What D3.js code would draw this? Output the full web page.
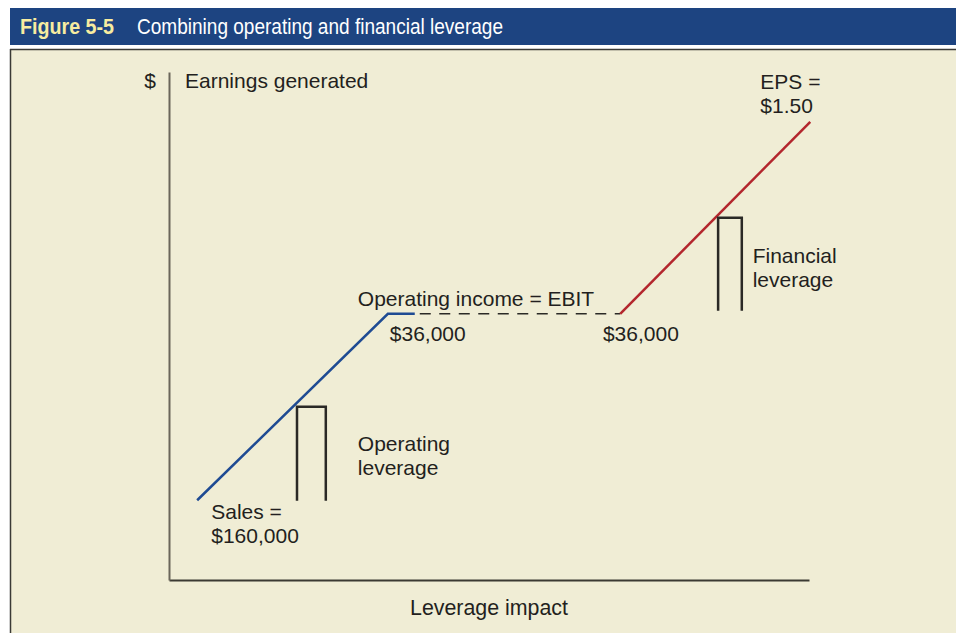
<!DOCTYPE html>
<html><head><meta charset="utf-8">
<script src="https://cdn.jsdelivr.net/npm/d3@7"></script>
<style>
html,body{margin:0;padding:0;background:#fff;}
svg{display:block;}
</style></head>
<body>
<script>
// ---- data (abstract units: leverage impact 0-100, earnings 0-100) ----
const figureNumber = "Figure 5-5";
const figureTitle = "Combining operating and financial leverage";
const xAxisLabel = "Leverage impact";
const yAxisLabel = "Earnings generated";
const operatingLine = [{x:4.4,y:15.7},{x:34.2,y:52.4},{x:38.4,y:52.4}];
const ebitLink = [{x:38.4,y:52.4},{x:70.5,y:52.4}];
const financialLine = [{x:70.5,y:52.4},{x:100.2,y:90.2}];
const operatingBracket = [{x:20.0,y:15.6},{x:20.0,y:34.1},{x:24.5,y:34.1},{x:24.5,y:15.6}];
const financialBracket = [{x:85.8,y:53.0},{x:85.8,y:71.3},{x:89.5,y:71.3},{x:89.5,y:53.0}];
const labels = [
  {lines:["EPS =","$1.50"], x:92.4, y:96.7},
  {lines:["Financial","leverage"], x:91.2, y:62.4},
  {lines:["Operating income = EBIT"], x:29.5, y:54.0},
  {lines:["$36,000"], x:34.5, y:47.0},
  {lines:["$36,000"], x:67.8, y:47.0},
  {lines:["Operating","leverage"], x:29.5, y:25.4},
  {lines:["Sales =","$160,000"], x:6.6, y:12.0}
];

const W=956, H=633;
const svg = d3.select("body").append("svg").attr("width",W).attr("height",H);
const textColor = "#231f20";

// backgrounds
svg.append("rect").attr("x",0).attr("y",0).attr("width",W).attr("height",H).attr("fill","#fff");
svg.append("rect").attr("x",10).attr("y",8).attr("width",W-10).attr("height",37).attr("fill","#1d4481");
svg.append("rect").attr("x",10).attr("y",49).attr("width",W-10).attr("height",H-49).attr("fill","#f0edd5");
svg.append("line").attr("x1",10).attr("x2",W).attr("y1",49.5).attr("y2",49.5).attr("stroke","#3a3a36").attr("stroke-width",1.5);
svg.append("line").attr("x1",10.5).attr("x2",10.5).attr("y1",49).attr("y2",H).attr("stroke","#3a3a36").attr("stroke-width",1.5);

// title (condensed look via textLength)
const condensed = "'Liberation Sans Narrow','Arial Narrow','Liberation Sans',Arial,sans-serif";
svg.append("text").attr("x",20).attr("y",34).attr("textLength",94).attr("lengthAdjust","spacingAndGlyphs")
  .style("font-family",condensed).style("font-size","22px").attr("font-weight","bold")
  .attr("fill","#f7eca0").text(figureNumber);
svg.append("text").attr("x",137).attr("y",34).attr("textLength",366).attr("lengthAdjust","spacingAndGlyphs")
  .style("font-family",condensed).style("font-size","22px").attr("fill","#fff").text(figureTitle);

// scales
const x = d3.scaleLinear().domain([0,100]).range([169,809]);
const y = d3.scaleLinear().domain([0,100]).range([580,72]);

// axes
const g = svg.append("g");
const xAxis = d3.axisBottom(x).ticks(0).tickSize(0).tickSizeOuter(0);
const yAxis = d3.axisLeft(y).ticks(0).tickSize(0).tickSizeOuter(0);
g.append("g").attr("transform",`translate(0,${y(0)})`).call(xAxis)
  .call(s=>s.select(".domain").attr("stroke","#3b3a33").attr("stroke-width",2));
g.append("g").attr("transform",`translate(${x(0)},0)`).call(yAxis)
  .call(s=>s.select(".domain").attr("stroke","#6a665a").attr("stroke-width",2));

const font = "'Liberation Sans',Arial,Helvetica,sans-serif";
svg.append("text").attr("x",410).attr("y",615).attr("textLength",158).attr("lengthAdjust","spacingAndGlyphs")
  .style("font-family",condensed).style("font-size","22px")
  .attr("fill",textColor).text(xAxisLabel);
svg.append("text").attr("x",156).attr("y",88).attr("text-anchor","end")
  .style("font-family",font).style("font-size","21px").attr("fill",textColor).text("$");
svg.append("text").attr("x",185).attr("y",88)
  .style("font-family",font).style("font-size","21px").attr("fill",textColor).text(yAxisLabel);

const line = d3.line().x(d=>x(d.x)).y(d=>y(d.y));
svg.append("path").attr("d",line(operatingLine)).attr("fill","none").attr("stroke","#1f4b93").attr("stroke-width",2.5);
svg.append("path").attr("d",line(ebitLink)).attr("fill","none").attr("stroke","#2b2a26").attr("stroke-width",1.5)
  .attr("stroke-dasharray","11,8.5").attr("stroke-dashoffset",-5);
svg.append("path").attr("d",line(financialLine)).attr("fill","none").attr("stroke","#b3262d").attr("stroke-width",2.5);
[operatingBracket, financialBracket].forEach(b=>{
  svg.append("path").attr("d",line(b)).attr("fill","none").attr("stroke","#2a2926").attr("stroke-width",2.5);
});

labels.forEach(l=>{
  const t = svg.append("text").attr("x",x(l.x)).attr("y",y(l.y))
    .style("font-family",font).style("font-size","21px").attr("fill",textColor);
  l.lines.forEach((s,i)=>t.append("tspan").attr("x",x(l.x)).attr("dy",i?24:0).text(s));
});
</script>
</body></html>
